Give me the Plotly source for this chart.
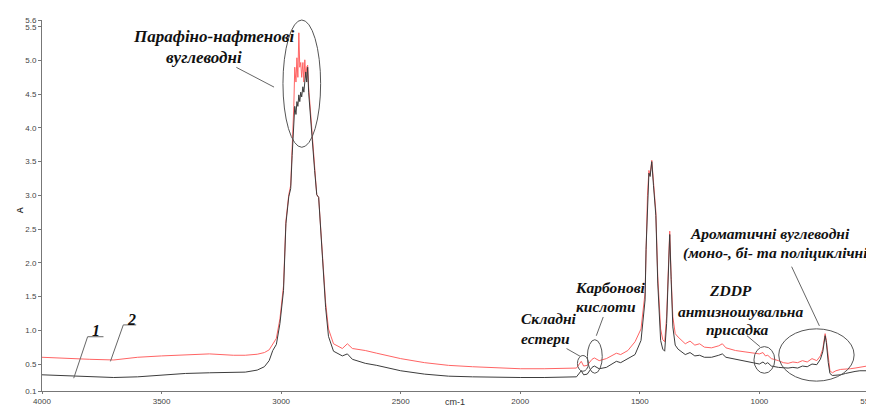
import plotly.graph_objects as go

# ---------------- data ----------------
wavenumber = [4000, 3900, 3800, 3700, 3600, 3500, 3400, 3300, 3200, 3150, 3100, 3070, 3050, 3035,
              3020, 3005, 2990, 2980, 2968, 2960, 2954, 2950,
              2947, 2943, 2938, 2934, 2930, 2926, 2922, 2918, 2914, 2909, 2905, 2901, 2897, 2893,
              2889, 2885, 2876, 2868, 2860, 2851, 2843, 2827, 2814, 2802, 2781, 2744, 2723, 2702,
              2648, 2600, 2500, 2400, 2300, 2200, 2100, 2000, 1900, 1800, 1765, 1745, 1735, 1720,
              1700, 1690, 1670, 1640, 1610, 1598, 1580, 1550, 1520, 1495, 1478, 1474, 1468, 1462,
              1457, 1450, 1443, 1433, 1425, 1413, 1404, 1396, 1388, 1381, 1375, 1369, 1362, 1352,
              1340, 1310, 1290, 1270, 1250, 1230, 1200, 1170, 1155, 1140, 1100, 1060, 1030, 1000,
              985, 975, 965, 950, 920, 900, 880, 860, 840, 820, 800, 780, 760, 745, 735, 725,
              720, 712, 705, 695, 680, 660, 640, 620, 600, 580, 560, 550]

absorbance_1 = [0.34, 0.33, 0.31, 0.30, 0.31, 0.34, 0.36, 0.37, 0.37, 0.38, 0.41, 0.46, 0.55, 0.70,
                0.79, 1.10, 1.59, 2.58, 2.98, 3.10, 3.59, 3.93,
                4.17, 4.32, 4.20, 4.39, 4.32, 4.49, 4.39, 4.53, 4.46, 4.61, 4.53, 4.75, 4.83, 4.68,
                4.90, 4.53, 4.10, 3.66, 3.37, 3.01, 2.97, 2.07, 1.34, 0.91, 0.69, 0.62, 0.65, 0.57,
                0.51, 0.48, 0.40, 0.35, 0.32, 0.31, 0.30, 0.30, 0.30, 0.31, 0.31, 0.40, 0.34, 0.35,
                0.45, 0.47, 0.43, 0.45, 0.52, 0.54, 0.52, 0.58, 0.64, 0.85, 1.45, 2.20, 2.95, 3.33,
                3.28, 3.50, 3.15, 2.70, 1.70, 0.85, 0.72, 0.69, 1.10, 1.95, 2.42, 1.75, 1.05, 0.78,
                0.72, 0.64, 0.67, 0.62, 0.63, 0.60, 0.60, 0.63, 0.65, 0.60, 0.57, 0.54, 0.52, 0.50,
                0.53, 0.50, 0.52, 0.47, 0.45, 0.44, 0.44, 0.45, 0.44, 0.47, 0.46, 0.50, 0.49, 0.57,
                0.68, 0.92, 0.82, 0.52, 0.36, 0.33, 0.33, 0.34, 0.36, 0.38, 0.39, 0.40, 0.40, 0.40]

absorbance_2 = [0.60, 0.58, 0.57, 0.56, 0.60, 0.62, 0.64, 0.65, 0.63, 0.63, 0.645, 0.67, 0.71, 0.80,
                0.88, 1.17, 1.66, 2.62, 3.01, 3.15, 3.59, 3.93,
                4.32, 4.90, 4.68, 5.04, 4.75, 5.41, 4.90, 4.97, 4.75, 4.97, 4.68, 5.01, 4.75, 4.90,
                4.93, 4.61, 4.17, 3.74, 3.45, 3.01, 2.97, 2.14, 1.41, 1.02, 0.80, 0.73, 0.80, 0.73,
                0.70, 0.66, 0.58, 0.52, 0.48, 0.46, 0.44, 0.43, 0.43, 0.44, 0.44, 0.54, 0.47, 0.48,
                0.57, 0.59, 0.55, 0.58, 0.64, 0.66, 0.64, 0.70, 0.83, 1.02, 1.56, 2.28, 3.00, 3.37,
                3.30, 3.52, 3.20, 2.76, 1.80, 1.02, 0.86, 0.83, 1.20, 2.00, 2.47, 1.80, 1.20, 0.95,
                0.90, 0.80, 0.84, 0.78, 0.80, 0.75, 0.74, 0.77, 0.80, 0.74, 0.70, 0.68, 0.66, 0.65,
                0.67, 0.62, 0.63, 0.58, 0.55, 0.52, 0.51, 0.53, 0.52, 0.55, 0.53, 0.58, 0.55, 0.62,
                0.72, 0.95, 0.85, 0.55, 0.40, 0.37, 0.40, 0.42, 0.42, 0.43, 0.44, 0.45, 0.47, 0.47]

x_tick_vals = [4000, 3500, 3000, 2500, 2000, 1500, 1000, 550]
x_tick_text = ["4000", "3500", "3000", "2500", "2000", "1500", "1000", "550"]
y_tick_vals = [0.1, 0.5, 1.0, 1.5, 2.0, 2.5, 3.0, 3.5, 4.0, 4.5, 5.0, 5.5, 5.6]
y_tick_text = ["0.1", "0.5", "1.0", "1.5", "2.0", "2.5", "3.0", "3.5", "4.0", "4.5", "5.0", "5.5", "5.6"]

# (text, centre x px, centre y px, font size)
labels = [
    ("Парафіно-нафтенові", 207, 29, 17),
    ("вуглеводні", 197, 50, 17),
    ("Складні", 545, 315, 15.5),
    ("естери", 542, 335, 15.5),
    ("Карбонові", 607, 283, 15.5),
    ("кислоти", 603, 302, 15.5),
    ("ZDDP", 728, 286, 15.5),
    ("антизношувальна", 738, 307, 15.5),
    ("присадка", 735, 326, 15.5),
    ("Ароматичні вуглеводні", 768, 228, 15.5),
    ("(моно-, бі- та поліциклічні)", 776, 248, 15.5),
    ("1", 88, 327, 16),
    ("2", 124, 316, 16),
]

# ---------------- layout helpers (pixel -> paper) ----------------
W, H = 874, 406
L, R, T, B = 34, 866, 12, 388


def px(x):
    return (x - L) / (R - L)


def py(y):
    return (B - y) / (B - T)


fig = go.Figure()
fig.add_trace(go.Scatter(x=wavenumber, y=absorbance_2, mode="lines", name="2",
                         line=dict(color="#ff6464", width=1)))
fig.add_trace(go.Scatter(x=wavenumber, y=absorbance_1, mode="lines", name="1",
                         line=dict(color="#3c3c3c", width=1)))

annotations = []
for text, x, y, size in labels:
    annotations.append(dict(text="<b><i>" + text + "</i></b>", x=px(x), y=py(y),
                            xref="paper", yref="paper", showarrow=False,
                            xanchor="center", yanchor="middle",
                            font=dict(family="Liberation Serif", size=size, color="#111111")))
annotations.append(dict(text="cm-1", x=px(450), y=py(406), xref="paper", yref="paper",
                        showarrow=False, xanchor="center", yanchor="bottom",
                        font=dict(family="Liberation Sans", size=9, color="#333")))
annotations.append(dict(text="<b>A</b>", x=px(12), y=py(205), xref="paper", yref="paper",
                        showarrow=False, xanchor="center", yanchor="middle", textangle=-90,
                        font=dict(family="Liberation Sans", size=9, color="#333")))

line_segs = [
    (230, 60, 268, 80),
    (563, 345, 577, 353),
    (600, 313, 593, 332),
    (745, 332, 758, 343),
    (790, 262, 818, 322),
    (80, 333, 96, 333),
    (80, 333, 66, 375),
    (116, 321, 129, 321),
    (116, 321, 103, 358),
]
ellipses = [
    (277, 12, 315, 141),
    (574, 352, 585, 368),
    (584, 336, 599, 370),
    (752, 343, 773, 370),
    (777, 325, 853, 378),
]
shapes = []
for x0, y0, x1, y1 in line_segs:
    shapes.append(dict(type="line", xref="paper", yref="paper",
                       x0=px(x0), y0=py(y0), x1=px(x1), y1=py(y1),
                       line=dict(color="#666666", width=1)))
for x0, y0, x1, y1 in ellipses:
    shapes.append(dict(type="circle", xref="paper", yref="paper",
                       x0=px(x0), y0=py(y0), x1=px(x1), y1=py(y1),
                       line=dict(color="#555555", width=1)))

tick_font = dict(family="Liberation Sans Narrow, Liberation Sans", size=8, color="#444")
fig.update_layout(
    width=W, height=H,
    margin=dict(l=L, r=W - R, t=T, b=H - B, pad=0),
    paper_bgcolor="white", plot_bgcolor="white",
    showlegend=False,
    annotations=annotations,
    shapes=shapes,
    xaxis=dict(range=[4000, 550], tickmode="array", tickvals=x_tick_vals, ticktext=x_tick_text,
               showgrid=False, zeroline=False, showline=True, linecolor="#777", linewidth=1,
               ticks="outside", ticklen=2, tickcolor="#777", tickfont=tick_font),
    yaxis=dict(range=[0.1, 5.6], tickmode="array", tickvals=y_tick_vals, ticktext=y_tick_text,
               showgrid=False, zeroline=False, showline=True, linecolor="#777", linewidth=1,
               ticks="outside", ticklen=3, tickcolor="#777", tickfont=tick_font),
)

fig.write_html("out.html")
